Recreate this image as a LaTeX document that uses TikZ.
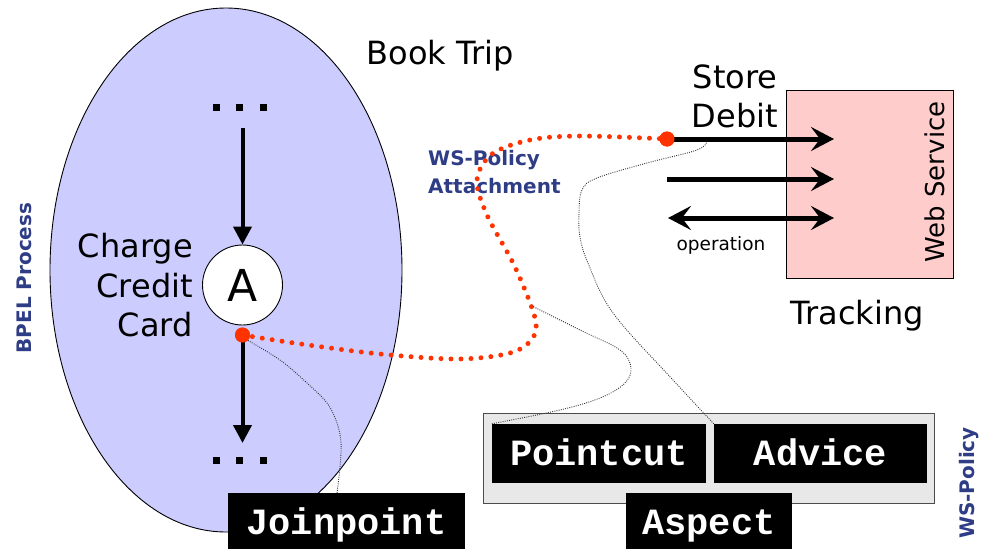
\documentclass[tikz,border=0pt]{standalone}
\usepackage{fontspec}
\setmainfont{DejaVu Sans}
\newfontfamily\codefont{Liberation Mono}
\usetikzlibrary{arrows.meta,shapes.geometric}

\definecolor{lav}{HTML}{CCCCFF}
\definecolor{pinkbox}{HTML}{FFCCCC}
\definecolor{dotred}{HTML}{FF3300}
\definecolor{polblue}{HTML}{2E3D85}
\definecolor{aspgray}{HTML}{E8E8E8}

\tikzset{
  lbl/.style={inner sep=0pt, font=\fontsize{32}{39}\selectfont},
  smalllbl/.style={inner sep=0pt, font=\fontsize{18.5}{22}\selectfont},
  bluelbl/.style={inner sep=0pt, text=polblue, font=\bfseries\fontsize{20}{28}\selectfont},
  tag/.style={fill=black, text=white, inner sep=0pt, text height=23pt, text depth=0pt,
              font=\codefont\bfseries\fontsize{37}{40}\selectfont},
  sq/.style={fill=black, minimum size=7pt, inner sep=0pt},
  reddot/.style={circle, fill=dotred, minimum size=15pt, inner sep=0pt},
  flow/.style={line width=4pt, -{Triangle[length=18pt,width=18pt]}},
  call/.style={line width=5pt, -{Stealth[length=23pt,width=24pt,inset=9pt]}},
  callboth/.style={line width=5pt, {Stealth[length=23pt,width=24pt,inset=9pt]}-{Stealth[length=23pt,width=24pt,inset=9pt]}},
  policy/.style={draw=dotred, line width=5pt, line cap=round, dash pattern=on 0pt off 10pt},
  hint/.style={draw=black!80, line width=0.9pt, dash pattern=on 0.9pt off 1.3pt},
}

\begin{document}
\begin{tikzpicture}[x=1pt,y=-1pt]
\useasboundingbox (0,0) rectangle (983,549);

% BPEL process
\node[ellipse, draw, line width=0.9pt, fill=lav, minimum width=352pt, minimum height=524pt, inner sep=0pt] (proc) at (226,270) {};
\node[bluelbl, rotate=90, anchor=base] (bpel) at (31,278) {BPEL Process};
\node[lbl, anchor=base] (trip) at (440,64) {Book Trip};

% activity flow
\node[sq] (t1) at (216,107) {};
\node[sq] (t2) at (239.5,107) {};
\node[sq] (t3) at (263,107) {};
\node[sq] (b1) at (216,460) {};
\node[sq] (b2) at (239.5,460) {};
\node[sq] (b3) at (263,460) {};
\node[circle, draw, line width=0.9pt, fill=white, minimum size=80pt, inner sep=0pt,
      font=\fontsize{44}{48}\selectfont] (act) at (242.5,285) {A};
\node[lbl, anchor=base east] (l1) at (193,257) {Charge};
\node[lbl, anchor=base east] (l2) at (193,297) {Credit};
\node[lbl, anchor=base east] (l3) at (193,336) {Card};
\coordinate (ftop) at (242.5,128);
\coordinate (fbot) at (242.5,443);
\draw[flow] (ftop) -- (act.north);
\node[reddot] (jp) at (242.5,335) {};
\draw[flow] (jp.center) -- (fbot);

% web service
\node[draw, line width=0.9pt, fill=pinkbox, minimum width=167pt, minimum height=188pt, inner sep=0pt] (ws) at (869.5,184) {};
\node[inner sep=0pt, rotate=90, anchor=base, font=\fontsize{26}{30}\selectfont] (wsl) at (944,182) {Web Service};
\node[lbl, anchor=base] (trk) at (857,324) {Tracking};
\node[lbl, anchor=base] (st1) at (735,88) {Store};
\node[lbl, anchor=base] (st2) at (735,127) {Debit};
\node[smalllbl, anchor=base] (op) at (721,250) {operation};
\node[reddot] (sd) at (667,139) {};
\coordinate (a1e) at (834,139);
\coordinate (a2s) at (667,179);
\coordinate (a2e) at (834,179);
\coordinate (a3s) at (668,218);
\coordinate (a3e) at (834,218);
\draw[call] (sd.center) -- (a1e);
\draw[call] (a2s) -- (a2e);
\draw[callboth] (a3s) -- (a3e);

% aspect
\node[draw=black!70, line width=0.9pt, fill=aspgray, minimum width=451pt, minimum height=90pt, inner sep=0pt] (asp) at (708.5,458) {};
\node[tag, minimum width=214pt, minimum height=59pt] (pc) at (599,453.5) {Pointcut};
\node[tag, minimum width=213pt, minimum height=59pt] (adv) at (820.5,453.5) {Advice};
\node[tag, minimum width=166pt, minimum height=60pt] (asl) at (709,523) {Aspect};
\node[tag, minimum width=237pt, minimum height=60pt] (jn) at (346.5,523) {Joinpoint};
\node[bluelbl, rotate=90, anchor=base] (wsp) at (974,483) {WS-Policy};

% policy attachment
\node[bluelbl, anchor=base west] (pa1) at (428,165) {WS-Policy};
\node[bluelbl, anchor=base west] (pa2) at (428,193) {Attachment};
\draw[policy] plot[smooth, tension=0.55] coordinates {(jp.center) (301,344) (380,354) (458,359) (510,353) (532,339) (535,318) (515,267) (487,215) (477,180) (492,154) (530,140) (580,136) (sd.center)};
\node[reddot] at (jp) {};
\node[reddot] at (sd) {};

% hints
\coordinate (pcend) at (532,306);
\coordinate (advend) at (707,141);
\coordinate (jlend) at (337,493);
\draw[hint] plot[smooth, tension=0.6] coordinates {(jp.south east) (280,360) (307,383) (327,403) (337,423) (341,443) (340,467) (jlend)};
\draw[hint] plot[smooth, tension=0.6] coordinates {(pc.north west) (560,410) (600,398) (624,384) (631,368) (620,350) (580,330) (pcend)};
\draw[hint] plot[smooth, tension=0.6] coordinates {(adv.north west) (673,380) (613,313) (588,263) (580,237) (579,213) (582,190) (597,178) (647,163) (697,150) (advend)};
\end{tikzpicture}
\end{document}
